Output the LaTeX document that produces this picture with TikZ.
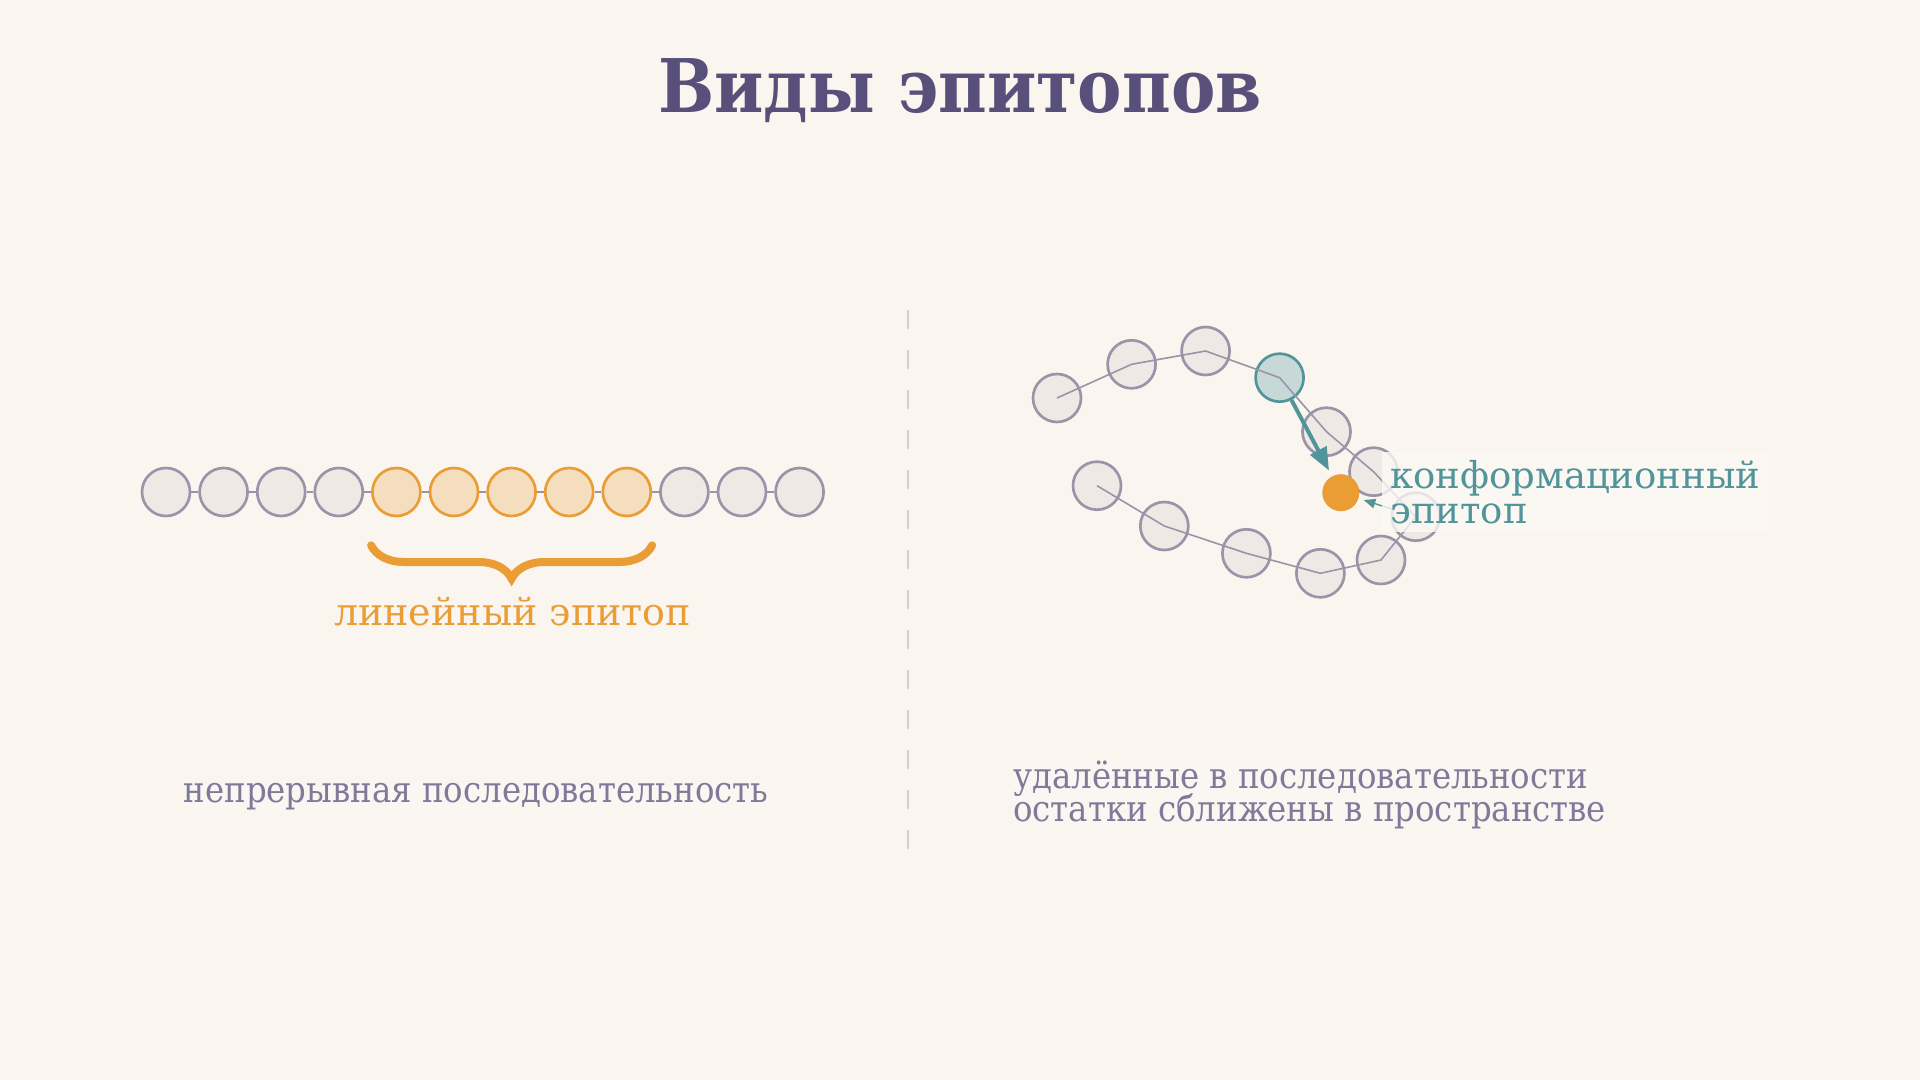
\documentclass[tikz,border=0pt]{standalone}
\usepackage{fontspec}
\setmainfont{DejaVu Serif Condensed}
\newfontfamily\labelfont{DejaVu Serif}
\usetikzlibrary{arrows,positioning,decorations.pathreplacing}
\AtBeginDocument{\setlength{\lineskiplimit}{-50pt}}
\definecolor{bgpaper}{HTML}{FAF5EF}
\definecolor{titleink}{HTML}{58507A}
\definecolor{noteink}{HTML}{7F7A9A}
\definecolor{resgray}{HTML}{9B94A8}
\definecolor{resfill}{HTML}{EFE9E6}
\definecolor{linorange}{HTML}{E99D34}
\definecolor{linfill}{HTML}{F5DEBE}
\definecolor{confteal}{HTML}{51959B}
\definecolor{conffill}{HTML}{C6D9D8}
\definecolor{divgray}{HTML}{D3D0CD}
\tikzset
{
    residue/.style     = {circle, draw=resgray, fill=resfill, line width=2pt, minimum size=36pt, inner sep=0pt},
    linresidue/.style  = {residue, draw=linorange, fill=linfill},
    confresidue/.style = {residue, draw=confteal, fill=conffill},
    backbone/.style    = {draw=resgray, line width=1.9pt},
    foldline/.style    = {draw=resgray, line width=1.2pt},
    linbrace/.style    = {draw=linorange, line width=6pt, line cap=round, decorate, decoration={brace, amplitude=25pt}},
    titletext/.style   = {text=titleink, font=\fontsize{55.5pt}{60pt}\selectfont\bfseries, inner sep=0pt},
    notetext/.style    = {text=noteink, font=\fontsize{27pt}{24.5pt}\selectfont, inner sep=0pt, fill=white, fill opacity=0.15, text opacity=1},
    labeltext/.style   = {inner sep=0pt}
}
\begin{document}
\begin{tikzpicture}[x=0.75pt, y=-0.75pt, >=triangle 45]
    \fill[bgpaper] (0,0) rectangle (1920,1080);
    \node [titletext, anchor=base] (title) at (960,113) {Виды эпитопов};

    % linear chain
    \foreach \i/\kind in {1/residue, 2/residue, 3/residue, 4/residue, 5/linresidue, 6/linresidue,
                          7/linresidue, 8/linresidue, 9/linresidue, 10/residue, 11/residue, 12/residue}
    {
        \node [\kind] (l\i) at ({166+57.6*(\i-1)},492) {};
    }
    \foreach \i [evaluate=\i as \j using int(\i+1)] in {1,...,11}
    {
        \draw [backbone] (l\i) -- (l\j);
    }
    \draw [linbrace] ([yshift=-40pt]l9.east) -- ([yshift=-40pt]l5.west);
    \node [labeltext, text=linorange, font=\labelfont\fontsize{28.5pt}{30pt}\selectfont, anchor=base] (linlabel) at (512.5,625) {линейный эпитоп};

    % divider
    \coordinate (divtop) at (907.5,310);
    \coordinate (divbot) at (907.5,850);
    \draw [divgray, line width=1.5pt, dash pattern=on 14.6pt off 15.4pt] (divtop) -- (divbot);

    % folded chain
    \foreach \i/\kind/\pos in {1/residue/{1057,398}, 2/residue/{1131.6,364.3}, 3/residue/{1205.6,351},
                               4/confresidue/{1279.6,377.7}, 5/residue/{1326.5,431.7}, 6/residue/{1373.5,471.7},
                               7/residue/{1415.8,516.7}, 8/residue/{1381,560}, 9/residue/{1320.4,573.3},
                               10/residue/{1246.4,553.3}, 11/residue/{1164.3,526}, 12/residue/{1097,485.7}}
    {
        \node [\kind] (c\i) at (\pos) {};
    }
    \draw [foldline] (c1.center) -- (c2.center) -- (c3.center) -- (c4.center) -- (c5.center) -- (c6.center)
        -- (c7.center) -- (c8.center) -- (c9.center) -- (c10.center) -- (c11.center) -- (c12.center);
    \node [circle, fill=linorange, minimum size=27.75pt, inner sep=0pt] (site) at (1340.8,492.7) {};
    \draw [->, confteal, line width=3pt, shorten >=5pt] (c4) -- (site);
    \draw [->, confteal, line width=1pt, shorten >=4pt] (c7) -- (site);
    \node [labeltext, text=confteal, font=\labelfont\fontsize{27.75pt}{26.25pt}\selectfont, align=left, anchor=base west,
           fill=white!45!bgpaper, fill opacity=0.78, text opacity=1, inner sep=6pt] (conflabel) at (1382,523.3) {конформационный\\эпитоп};

    % notes
    \node [notetext, anchor=base] (linnote) at (476,802.7) {непрерывная последовательность};
    \node [notetext, anchor=base west, align=left] (confnote) at (1013,821) {удалённые в последовательности\\остатки сближены в пространстве};
\end{tikzpicture}
\end{document}
